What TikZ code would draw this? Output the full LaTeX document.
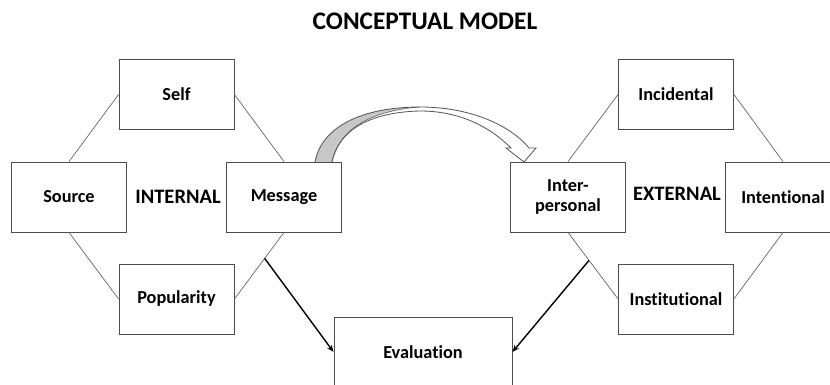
\documentclass[tikz,border=0pt]{standalone}
\usepackage{fontspec}
\setmainfont{Carlito}[Ligatures=NoCommon]
\usetikzlibrary{calc, arrows.meta}

\begin{document}
\begin{tikzpicture}[x=0.025cm, y=-0.025cm,
	box/.style={draw=black!70, line width=0.6pt, minimum width=2.875cm, minimum height=1.75cm, inner sep=0pt, align=center, font=\fontsize{13}{14}\selectfont\bfseries},
	link/.style={draw=black!60, line width=0.5pt},
	toeval/.style={draw=black, line width=1pt, -{Stealth[length=5pt, width=4pt]}},
	label/.style={font=\fontsize{14.6}{16}\selectfont\bfseries}]

	\useasboundingbox (0,0) rectangle (830,385);

	\node[font=\fontsize{18}{20}\selectfont\bfseries] (Title) at (425,21) {CONCEPTUAL MODEL};

	% internal side
	\node[box] (Self) at (176.5,94.5) {Self};
	\node[box] (Source) at (69,197) {Source};
	\node[box] (Message) at (284,197) {Message};
	\node[box] (Popularity) at (176.5,299) {Popularity};
	\node[label] (Internal) at (178,197) {INTERNAL};

	% external side
	\node[box] (Incidental) at (676,94.5) {Incidental};
	\node[box] (Interpersonal) at (568,197) {Inter-\\personal};
	\node[box] (Intentional) at (783,197) {Intentional};
	\node[box] (Institutional) at (676,299) {Institutional};
	\node[label] (External) at (677,194) {EXTERNAL};

	\node[box, minimum width=4.45cm] (Evaluation) at (423,352) {Evaluation};

	\draw[link] (Source.north) -- (Self.west);
	\draw[link] (Self.east) -- (Message.north);
	\draw[link] (Source.south) -- (Popularity.west);
	\draw[link] (Popularity.east) -- (Message.south);

	\draw[link] (Interpersonal.north) -- (Incidental.west);
	\draw[link] (Incidental.east) -- (Intentional.north);
	\draw[link] (Interpersonal.south) -- (Institutional.west);
	\draw[link] (Institutional.east) -- (Intentional.south);

	\coordinate (MP) at ($(Message.south)!0.39!(Popularity.east)$);
	\coordinate (II) at ($(Interpersonal.south)!0.42!(Institutional.west)$);
	\draw[toeval] (MP) -- (Evaluation.west);
	\draw[toeval] (II) -- (Evaluation.east);

	% curved arrow from Message to Inter-personal
	\fill[black!22] (315,162) .. controls (322,125) and (365,107) .. (420,107)
		.. controls (380,110) and (340,124) .. (332,162) -- cycle;
	\draw[black!65, line width=0.6pt] (315,162) .. controls (322,125) and (365,107) .. (420,107)
		.. controls (470,107) and (510,125) .. (529,148) -- (536,148) -- (524,162) -- (506,148) -- (511,148)
		.. controls (490,127) and (460,111) .. (420,111)
		.. controls (378,112) and (340,125) .. (332,162);
	\draw[black!65, line width=0.4pt] (420,107) .. controls (380,110) and (340,124) .. (332,162);
\end{tikzpicture}
\end{document}
